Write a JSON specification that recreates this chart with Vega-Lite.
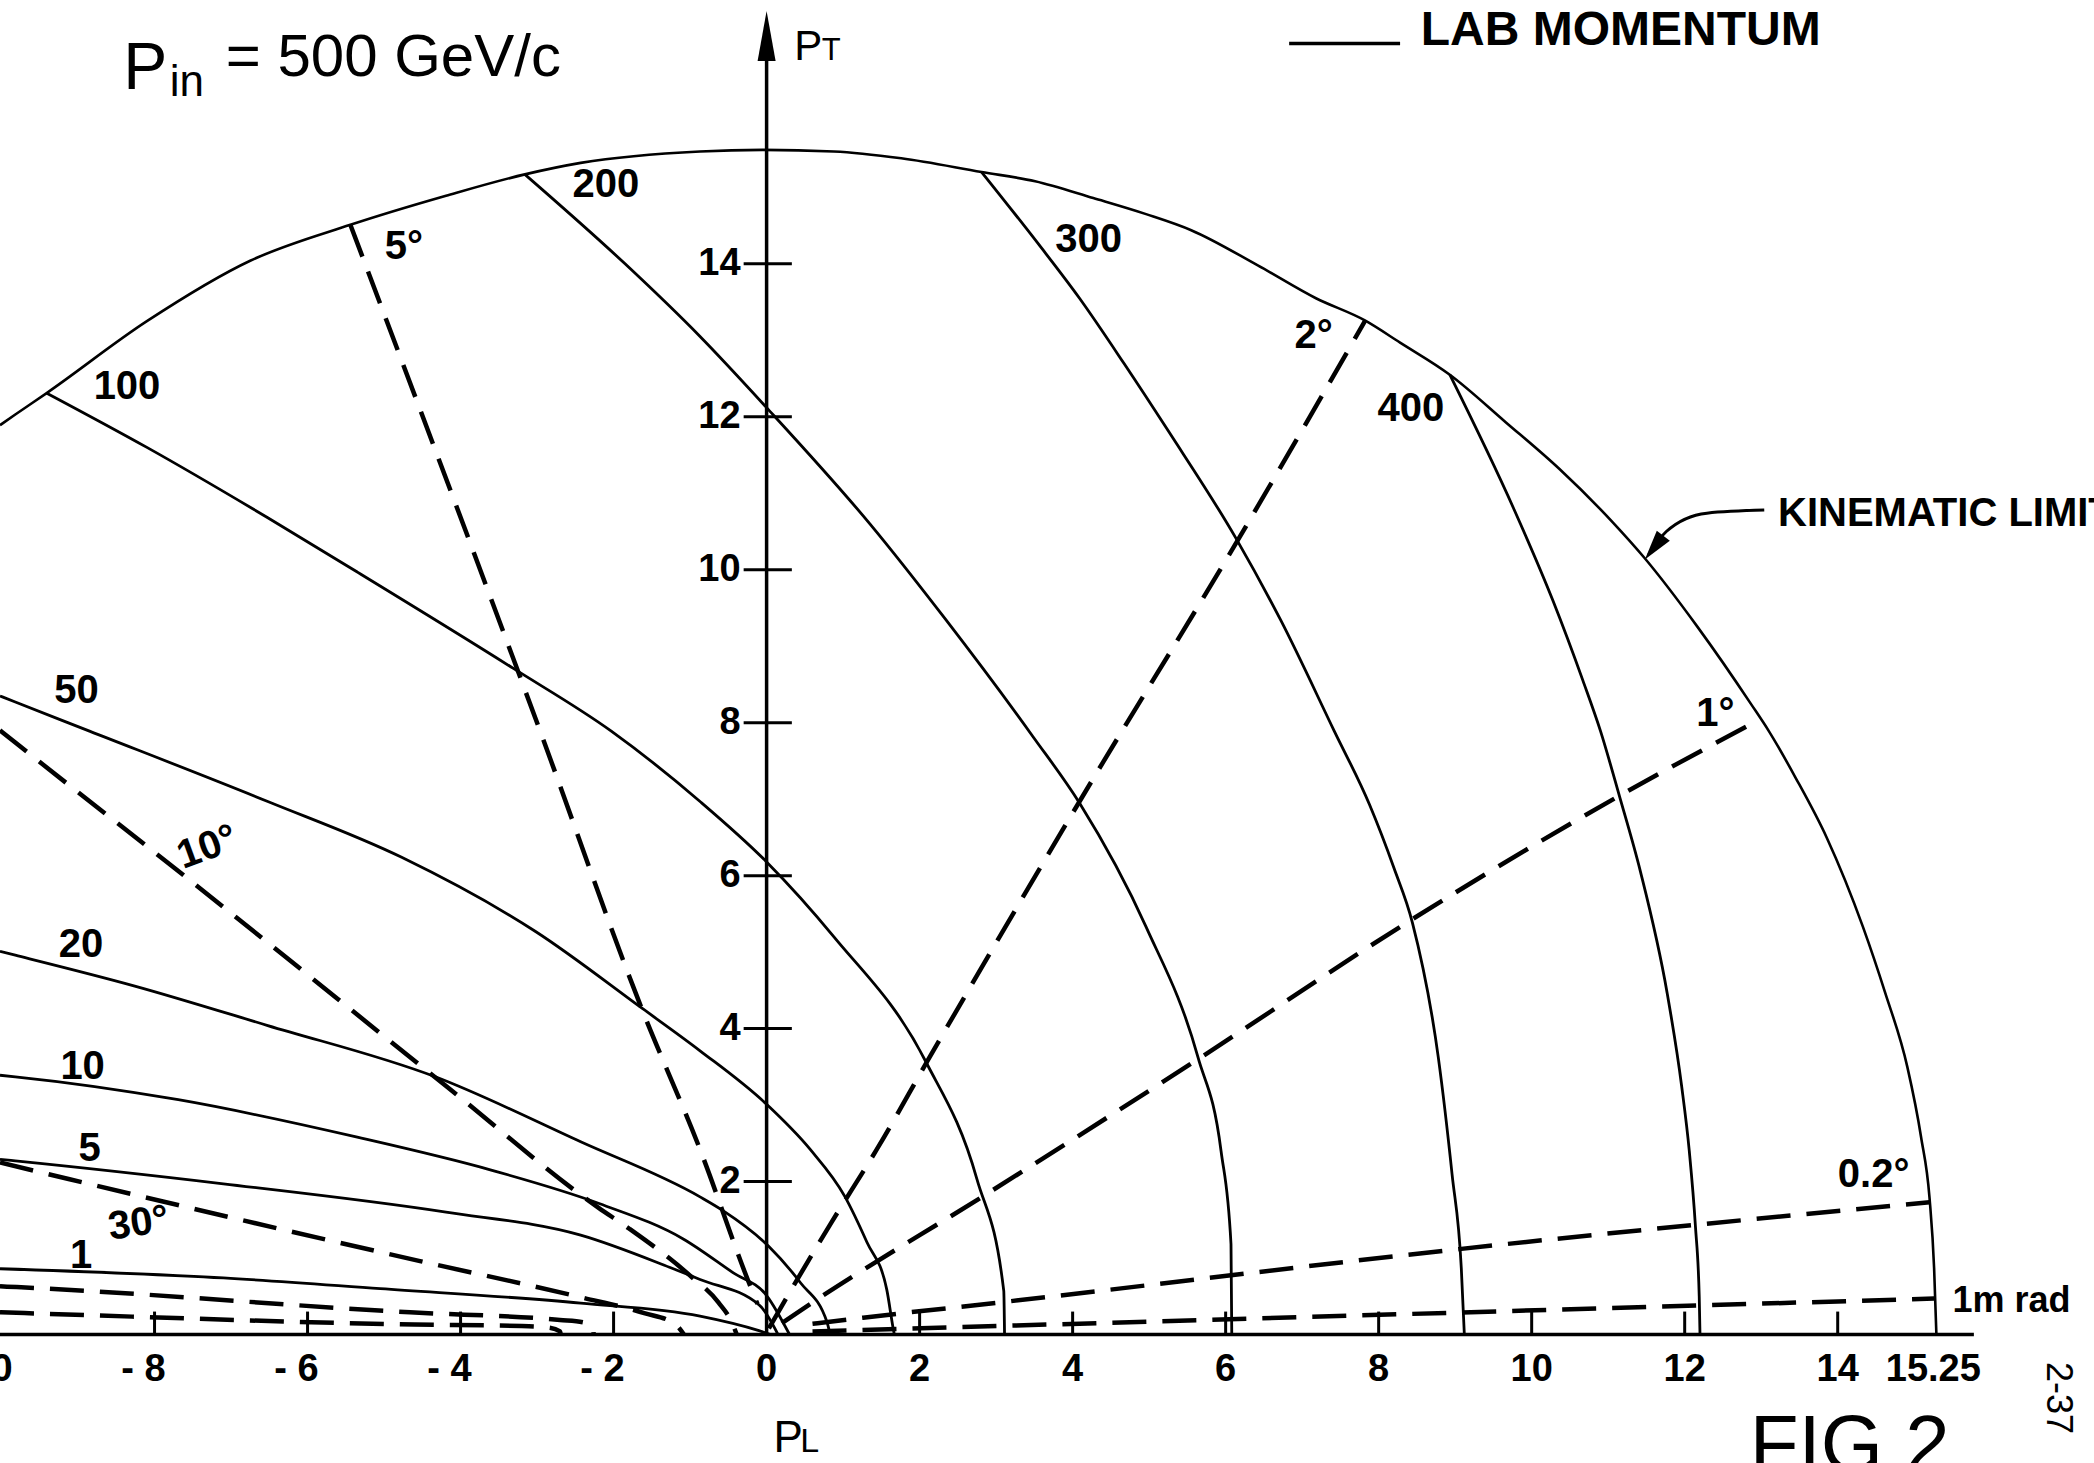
{
"$schema": "https://vega.github.io/schema/vega-lite/v6.json",
"width": 2094, "height": 1463,
"autosize": {"type": "fit", "contains": "padding"},
"padding": 0,
"background": "white",
"config": {"view": {"stroke": null}},
"datasets": {
"kin": [
{"x":-10.02,"y":11.89},{"x":-9.82,"y":12.03},{"x":-9.41,"y":12.31},{"x":-8.10,"y":13.25},{"x":-6.75,"y":14.04},{"x":-5.44,"y":14.51},{"x":-4.19,"y":14.89},{"x":-3.16,"y":15.17},{"x":-2.43,"y":15.32},{"x":-0.87,"y":15.47},{"x":-0.05,"y":15.49},{"x":0.88,"y":15.47},{"x":1.76,"y":15.38},{"x":2.81,"y":15.20},{"x":3.51,"y":15.08},{"x":4.27,"y":14.86},{"x":4.96,"y":14.65},{"x":5.55,"y":14.44},{"x":6.42,"y":13.98},{"x":7.18,"y":13.55},{"x":7.82,"y":13.26},{"x":8.28,"y":12.97},{"x":8.93,"y":12.55},{"x":9.66,"y":11.93},{"x":10.36,"y":11.32},{"x":11.06,"y":10.62},{"x":11.47,"y":10.16},{"x":12.17,"y":9.25},{"x":12.87,"y":8.24},{"x":13.10,"y":7.89},{"x":13.45,"y":7.28},{"x":13.86,"y":6.49},{"x":14.33,"y":5.33},{"x":14.62,"y":4.47},{"x":14.91,"y":3.50},{"x":15.09,"y":2.58},{"x":15.20,"y":1.79},{"x":15.26,"y":0.87},{"x":15.29,"y":0.0}
],
"solid": [
{"s":"400","x":8.93,"y":12.55},{"s":"400","x":9.76,"y":10.81},{"s":"400","x":10.28,"y":9.59},{"s":"400","x":10.67,"y":8.55},{"s":"400","x":10.90,"y":7.89},{"s":"400","x":11.15,"y":7.03},{"s":"400","x":11.42,"y":6.06},{"s":"400","x":11.77,"y":4.47},{"s":"400","x":11.96,"y":3.25},{"s":"400","x":12.06,"y":2.40},{"s":"400","x":12.14,"y":1.42},{"s":"400","x":12.19,"y":0.5},{"s":"400","x":12.2,"y":0},
{"s":"300","x":2.81,"y":15.20},{"s":"300","x":3.56,"y":14.25},{"s":"300","x":4.09,"y":13.55},{"s":"300","x":4.67,"y":12.70},{"s":"300","x":5.26,"y":11.80},{"s":"300","x":6.13,"y":10.42},{"s":"300","x":6.72,"y":9.34},{"s":"300","x":7.42,"y":7.89},{"s":"300","x":7.88,"y":6.93},{"s":"300","x":8.2,"y":6.1},{"s":"300","x":8.44,"y":5.39},{"s":"300","x":8.78,"y":3.62},{"s":"300","x":8.96,"y":2.09},{"s":"300","x":9.08,"y":0.87},{"s":"300","x":9.12,"y":0},
{"s":"200","x":-3.16,"y":15.17},{"s":"200","x":-1.85,"y":14.0},{"s":"200","x":-0.87,"y":13.05},{"s":"200","x":0,"y":12.12},{"s":"200","x":1.35,"y":10.6},{"s":"200","x":2.34,"y":9.35},{"s":"200","x":3.48,"y":7.82},{"s":"200","x":4.09,"y":6.95},{"s":"200","x":4.96,"y":5.33},{"s":"200","x":5.64,"y":3.62},{"s":"200","x":5.94,"y":2.40},{"s":"200","x":6.07,"y":1.18},{"s":"200","x":6.08,"y":0},
{"s":"100","x":-9.41,"y":12.31},{"s":"100","x":-8.10,"y":11.60},{"s":"100","x":-6.52,"y":10.68},{"s":"100","x":-5.35,"y":9.97},{"s":"100","x":-3.31,"y":8.71},{"s":"100","x":-2.03,"y":7.89},{"s":"100","x":-0.87,"y":6.97},{"s":"100","x":0,"y":6.18},{"s":"100","x":0.88,"y":5.20},{"s":"100","x":2.08,"y":3.57},{"s":"100","x":2.75,"y":2.03},{"s":"100","x":3.10,"y":0.57},{"s":"100","x":3.11,"y":0},
{"s":"50","x":-10.02,"y":8.35},{"s":"50","x":-9.82,"y":8.27},{"s":"50","x":-8.85,"y":7.89},{"s":"50","x":-6.52,"y":6.97},{"s":"50","x":-4.77,"y":6.24},{"s":"50","x":-3.02,"y":5.27},{"s":"50","x":-1.62,"y":4.26},{"s":"50","x":-0.87,"y":3.71},{"s":"50","x":0,"y":3.01},{"s":"50","x":0.57,"y":2.42},{"s":"50","x":1.02,"y":1.81},{"s":"50","x":1.31,"y":1.21},{"s":"50","x":1.57,"y":0.59},{"s":"50","x":1.66,"y":0.05},{"s":"50","x":1.67,"y":0},
{"s":"20","x":-10.02,"y":5.01},{"s":"20","x":-9.82,"y":4.96},{"s":"20","x":-8.27,"y":4.56},{"s":"20","x":-6.52,"y":4.04},{"s":"20","x":-4.33,"y":3.37},{"s":"20","x":-2.43,"y":2.52},{"s":"20","x":-0.87,"y":1.80},{"s":"20","x":-0.57,"y":1.62},{"s":"20","x":0.02,"y":1.16},{"s":"20","x":0.44,"y":0.68},{"s":"20","x":0.79,"y":0.16},{"s":"20","x":0.83,"y":0},
{"s":"10","x":-10.02,"y":3.39},{"s":"10","x":-9.82,"y":3.37},{"s":"10","x":-7.69,"y":3.07},{"s":"10","x":-5.35,"y":2.58},{"s":"10","x":-3.60,"y":2.15},{"s":"10","x":-2.18,"y":1.71},{"s":"10","x":-1.09,"y":1.25},{"s":"10","x":-0.44,"y":0.81},{"s":"10","x":0,"y":0.51},{"s":"10","x":0.3,"y":0},
{"s":"5","x":-10.02,"y":2.29},{"s":"5","x":-9.82,"y":2.27},{"s":"5","x":-7.10,"y":1.97},{"s":"5","x":-4.19,"y":1.60},{"s":"5","x":-2.43,"y":1.30},{"s":"5","x":-1.27,"y":0.88},{"s":"5","x":-0.87,"y":0.72},{"s":"5","x":-0.09,"y":0.38},{"s":"5","x":0.15,"y":0},
{"s":"1","x":-10.02,"y":0.86},{"s":"1","x":-7.1,"y":0.74},{"s":"1","x":-5.05,"y":0.6},{"s":"1","x":-2.43,"y":0.41},{"s":"1","x":-0.87,"y":0.24},{"s":"1","x":-0.1,"y":0.05},{"s":"1","x":0.05,"y":0}
],
"dashed": [
{"s":"2deg","x":0.03,"y":0.08},{"s":"2deg","x":0.33,"y":0.6},{"s":"2deg","x":0.85,"y":1.47},{"s":"2deg","x":1.44,"y":2.42},{"s":"2deg","x":2.11,"y":3.59},{"s":"2deg","x":4.09,"y":6.97},{"s":"2deg","x":6.19,"y":10.44},{"s":"2deg","x":7.82,"y":13.25},
{"s":"1deg","x":0.2,"y":0.15},{"s":"1deg","x":0.57,"y":0.40},{"s":"1deg","x":2.88,"y":1.84},{"s":"1deg","x":5.67,"y":3.62},{"s":"1deg","x":8.28,"y":5.33},{"s":"1deg","x":11.12,"y":7.03},{"s":"1deg","x":12.96,"y":8.03},
{"s":"0.2deg","x":0.6,"y":0.14},{"s":"0.2deg","x":1.26,"y":0.22},{"s":"0.2deg","x":3.05,"y":0.42},{"s":"0.2deg","x":9.08,"y":1.12},{"s":"0.2deg","x":15.2,"y":1.73},
{"s":"1mrad","x":0.6,"y":0.04},{"s":"1mrad","x":15.26,"y":0.47},
{"s":"5deg","x":-5.44,"y":14.51},{"s":"5deg","x":-2.96,"y":7.89},{"s":"5deg","x":-1.62,"y":4.23},{"s":"5deg","x":-0.87,"y":2.42},{"s":"5deg","x":-0.24,"y":0.70},{"s":"5deg","x":-0.12,"y":0.4},
{"s":"10deg","x":-10.02,"y":7.9},{"s":"10deg","x":-9.82,"y":7.74},{"s":"10deg","x":-7.69,"y":6.06},{"s":"10deg","x":-4.19,"y":3.25},{"s":"10deg","x":-2.20,"y":1.66},{"s":"10deg","x":-1.79,"y":1.38},{"s":"10deg","x":-1.0,"y":0.77},{"s":"10deg","x":-0.63,"y":0.42},{"s":"10deg","x":-0.45,"y":0.15},{"s":"10deg","x":-0.39,"y":0.0},
{"s":"30deg","x":-10.02,"y":2.25},{"s":"30deg","x":-9.11,"y":2.03},{"s":"30deg","x":-4.53,"y":0.96},{"s":"30deg","x":-2.44,"y":0.49},{"s":"30deg","x":-1.6,"y":0.28},{"s":"30deg","x":-1.2,"y":0.14},{"s":"30deg","x":-1.08,"y":0.0},
{"s":"60deg","x":-10.02,"y":0.63},{"s":"60deg","x":-9.8,"y":0.62},{"s":"60deg","x":-4.66,"y":0.29},{"s":"60deg","x":-2.7,"y":0.19},{"s":"60deg","x":-2.4,"y":0.16},{"s":"60deg","x":-2.27,"y":0.08},{"s":"60deg","x":-2.26,"y":0.0},
{"s":"90deg","x":-10.02,"y":0.29},{"s":"90deg","x":-9.7,"y":0.28},{"s":"90deg","x":-4.6,"y":0.13},{"s":"90deg","x":-3.2,"y":0.11},{"s":"90deg","x":-2.85,"y":0.09},{"s":"90deg","x":-2.7,"y":0.04},{"s":"90deg","x":-2.69,"y":0.0}
],
"rules": [
{"x":-10.02,"xe":15.78,"y":0,"ye":0},
{"x":0,"xe":0,"y":0,"ye":16.9},
{"x":6.83,"xe":8.28,"y":16.88,"ye":16.88}
],
"ticks": [
{"x":-8,"xe":-8,"y":0,"ye":0.3},{"x":-6,"xe":-6,"y":0,"ye":0.3},{"x":-4,"xe":-4,"y":0,"ye":0.3},{"x":-2,"xe":-2,"y":0,"ye":0.3},
{"x":2,"xe":2,"y":0,"ye":0.3},{"x":4,"xe":4,"y":0,"ye":0.3},{"x":6,"xe":6,"y":0,"ye":0.3},{"x":8,"xe":8,"y":0,"ye":0.3},{"x":10,"xe":10,"y":0,"ye":0.3},{"x":12,"xe":12,"y":0,"ye":0.3},{"x":14,"xe":14,"y":0,"ye":0.3},
{"x":-0.3,"xe":0.33,"y":2,"ye":2},{"x":-0.3,"xe":0.33,"y":4,"ye":4},{"x":-0.3,"xe":0.33,"y":6,"ye":6},{"x":-0.3,"xe":0.33,"y":8,"ye":8},{"x":-0.3,"xe":0.33,"y":10,"ye":10},{"x":-0.3,"xe":0.33,"y":12,"ye":12},{"x":-0.3,"xe":0.33,"y":14,"ye":14}
],
"xlabpos": [{"x":0,"y":-0.46,"t":"0"},{"x":2,"y":-0.46,"t":"2"},{"x":4,"y":-0.46,"t":"4"},{"x":6,"y":-0.46,"t":"6"},{"x":8,"y":-0.46,"t":"8"},{"x":10,"y":-0.46,"t":"10"},{"x":12,"y":-0.46,"t":"12"},{"x":14,"y":-0.46,"t":"14"},{"x":15.25,"y":-0.46,"t":"15.25"}],
"xlabneg": [{"x":-10,"y":-0.46,"t":"- 10"},{"x":-8,"y":-0.46,"t":"- 8"},{"x":-6,"y":-0.46,"t":"- 6"},{"x":-4,"y":-0.46,"t":"- 4"},{"x":-2,"y":-0.46,"t":"- 2"}],
"ylab": [{"x":-0.3,"y":2,"t":"2"},{"x":-0.3,"y":4,"t":"4"},{"x":-0.3,"y":6,"t":"6"},{"x":-0.3,"y":8,"t":"8"},{"x":-0.3,"y":10,"t":"10"},{"x":-0.3,"y":12,"t":"12"},{"x":-0.3,"y":14,"t":"14"}],
"clab": [
{"t":"100","x":-8.36,"y":12.39},{"t":"200","x":-2.10,"y":15.03},{"t":"300","x":4.21,"y":14.31},{"t":"400","x":8.42,"y":12.10},
{"t":"50","x":-9.02,"y":8.41},{"t":"20","x":-8.96,"y":5.09},{"t":"10","x":-8.94,"y":3.50},{"t":"5","x":-8.85,"y":2.43},{"t":"1","x":-8.96,"y":1.03},
{"t":"5°","x":-4.74,"y":14.22},{"t":"2°","x":7.15,"y":13.05},{"t":"1°","x":12.40,"y":8.12},{"t":"0.2°","x":14.47,"y":2.09}
],
"lab10": [{"t":"10°","x":-7.31,"y":6.37}],
"lab30": [{"t":"30°","x":-8.21,"y":1.45}],
"kinlab": [{"t":"KINEMATIC LIMIT","x":13.22,"y":10.73}],
"leglab": [{"t":"LAB MOMENTUM","x":8.55,"y":17.04}],
"mradlab": [{"t":"1m rad","x":15.5,"y":0.44}],
"titP": [{"t":"P","x":-8.41,"y":16.29}],
"titIn": [{"t":"in","x":-7.80,"y":16.19}],
"titRest": [{"t":"= 500 GeV/c","x":-7.07,"y":16.45}],
"ptP": [{"t":"P","x":0.36,"y":16.66}],
"ptT": [{"t":"T","x":0.72,"y":16.66}],
"plP": [{"t":"P","x":0.09,"y":-1.54}],
"plL": [{"t":"L","x":0.44,"y":-1.54}],
"fig": [{"t":"FIG 2","x":12.85,"y":-1.78}],
"side": [{"t":"2-37","x":16.88,"y":-0.36}],
"yarrow": [{"x":0,"y":16.98}],
"karrowhead": [{"x":11.60,"y":10.29}],
"karrow": [{"x":11.53,"y":10.2},{"x":11.76,"y":10.5},{"x":12.29,"y":10.74},{"x":13.04,"y":10.78}]
},
"encoding": {
"x": {"field":"x","type":"quantitative","scale":{"domain":[-10.02,17.35],"nice":false,"zero":false},"axis":null},
"y": {"field":"y","type":"quantitative","scale":{"domain":[-1.68,17.45],"nice":false,"zero":false},"axis":null}
},
"layer": [
{"data":{"name":"kin"},"mark":{"type":"line","color":"black","strokeWidth":2.6,"interpolate":"monotone","clip":true},"encoding":{}},
{"data":{"name":"solid"},"mark":{"type":"line","color":"black","strokeWidth":2.8,"interpolate":"monotone","clip":true},"encoding":{"detail":{"field":"s"}}},
{"data":{"name":"dashed"},"mark":{"type":"line","color":"black","strokeWidth":4.5,"strokeDash":[34,16],"interpolate":"monotone","clip":true},"encoding":{"detail":{"field":"s"}}},
{"data":{"name":"rules"},"mark":{"type":"rule","color":"black","strokeWidth":3.5,"clip":true},"encoding":{"x2":{"field":"xe"},"y2":{"field":"ye"}}},
{"data":{"name":"ticks"},"mark":{"type":"rule","color":"black","strokeWidth":3,"clip":true},"encoding":{"x2":{"field":"xe"},"y2":{"field":"ye"}}},
{"data":{"name":"ylab"},"mark":{"type":"text","font":"Liberation Sans","fontSize":38,"fontWeight":"bold","align":"right","baseline":"middle","dx":-3,"color":"black","clip":true},"encoding":{"text":{"field":"t"}}},
{"data":{"name":"xlabpos"},"mark":{"type":"text","font":"Liberation Sans","fontSize":38,"fontWeight":"bold","align":"center","baseline":"middle","color":"black","clip":true},"encoding":{"text":{"field":"t"}}},
{"data":{"name":"xlabneg"},"mark":{"type":"text","font":"Liberation Sans","fontSize":38,"fontWeight":"bold","align":"right","baseline":"middle","dx":11,"color":"black","clip":true},"encoding":{"text":{"field":"t"}}},
{"data":{"name":"clab"},"mark":{"type":"text","font":"Liberation Sans","fontSize":40,"fontWeight":"bold","align":"center","baseline":"middle","color":"black","clip":true},"encoding":{"text":{"field":"t"}}},
{"data":{"name":"lab10"},"mark":{"type":"text","font":"Liberation Sans","fontSize":40,"fontWeight":"bold","align":"center","baseline":"middle","angle":-20,"color":"black","clip":true},"encoding":{"text":{"field":"t"}}},
{"data":{"name":"lab30"},"mark":{"type":"text","font":"Liberation Sans","fontSize":40,"fontWeight":"bold","align":"center","baseline":"middle","angle":-8,"color":"black","clip":true},"encoding":{"text":{"field":"t"}}},
{"data":{"name":"kinlab"},"mark":{"type":"text","font":"Liberation Sans","fontSize":40,"fontWeight":"bold","align":"left","baseline":"middle","color":"black","clip":true},"encoding":{"text":{"field":"t"}}},
{"data":{"name":"leglab"},"mark":{"type":"text","font":"Liberation Sans","fontSize":48,"fontWeight":"bold","align":"left","baseline":"middle","color":"black","clip":true},"encoding":{"text":{"field":"t"}}},
{"data":{"name":"mradlab"},"mark":{"type":"text","font":"Liberation Sans","fontSize":36,"fontWeight":"bold","align":"left","baseline":"middle","color":"black","clip":true},"encoding":{"text":{"field":"t"}}},
{"data":{"name":"titP"},"mark":{"type":"text","font":"Liberation Sans","fontSize":66,"align":"left","baseline":"alphabetic","color":"black","clip":true},"encoding":{"text":{"field":"t"}}},
{"data":{"name":"titIn"},"mark":{"type":"text","font":"Liberation Sans","fontSize":44,"align":"left","baseline":"alphabetic","color":"black","clip":true},"encoding":{"text":{"field":"t"}}},
{"data":{"name":"titRest"},"mark":{"type":"text","font":"Liberation Sans","fontSize":60,"align":"left","baseline":"alphabetic","color":"black","clip":true},"encoding":{"text":{"field":"t"}}},
{"data":{"name":"ptP"},"mark":{"type":"text","font":"Liberation Sans","fontSize":42,"align":"left","baseline":"alphabetic","color":"black","clip":true},"encoding":{"text":{"field":"t"}}},
{"data":{"name":"ptT"},"mark":{"type":"text","font":"Liberation Sans","fontSize":31,"align":"left","baseline":"alphabetic","color":"black","clip":true},"encoding":{"text":{"field":"t"}}},
{"data":{"name":"plP"},"mark":{"type":"text","font":"Liberation Sans","fontSize":44,"align":"left","baseline":"alphabetic","color":"black","clip":true},"encoding":{"text":{"field":"t"}}},
{"data":{"name":"plL"},"mark":{"type":"text","font":"Liberation Sans","fontSize":34,"align":"left","baseline":"alphabetic","color":"black","clip":true},"encoding":{"text":{"field":"t"}}},
{"data":{"name":"fig"},"mark":{"type":"text","font":"Liberation Sans","fontSize":80,"align":"left","baseline":"alphabetic","color":"black","clip":true},"encoding":{"text":{"field":"t"}}},
{"data":{"name":"side"},"mark":{"type":"text","font":"Liberation Sans","fontSize":36,"align":"left","baseline":"middle","angle":90,"color":"black","clip":true},"encoding":{"text":{"field":"t"}}},
{"data":{"name":"yarrow"},"mark":{"type":"point","shape":"M0,-1L-0.36,1L0.36,1Z","size":2500,"filled":true,"color":"black","opacity":1,"clip":true},"encoding":{}},
{"data":{"name":"karrowhead"},"mark":{"type":"point","shape":"M0,1L-0.55,-1L0.55,-1Z","size":900,"angle":38,"filled":true,"color":"black","opacity":1,"clip":true},"encoding":{}},
{"data":{"name":"karrow"},"mark":{"type":"line","color":"black","strokeWidth":3,"interpolate":"monotone","clip":true},"encoding":{}}
]
}
